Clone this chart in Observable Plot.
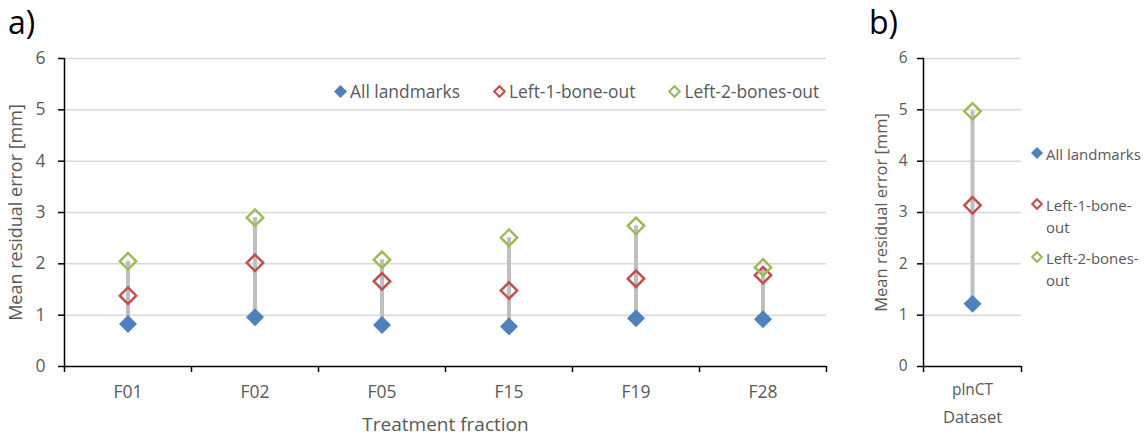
<!DOCTYPE html>
<html><head><meta charset="utf-8">
<script src="https://cdn.jsdelivr.net/npm/d3@7"></script>
<script src="https://cdn.jsdelivr.net/npm/@observablehq/plot@0.6"></script>
<style>
body{margin:0;background:#fff;font-family:"Open Sans",sans-serif;}
#wrap{position:relative;width:1146px;height:436px;overflow:hidden;background:#fff}
.panel{position:absolute;top:0;overflow:visible}
.tag{position:absolute;font-size:32px;color:#000;line-height:normal;top:0px}
.lega{position:absolute;left:334px;top:79px;display:flex;gap:33px;font-size:17.4px;color:#595959;line-height:24px;white-space:nowrap}
.item{display:flex;align-items:center;gap:3px}
.legb{position:absolute;left:1031px;font-size:15px;color:#595959;line-height:22px;display:flex;align-items:flex-start;gap:3px}
.legb .txt{width:97px}
.legb svg{margin-top:4px}
</style></head><body>
<div id="wrap"></div>
<script>
// ---- data ----
const fractions = ["F01", "F02", "F05", "F15", "F19", "F28"];
const seriesNames = ["All landmarks", "Left-1-bone-out", "Left-2-bones-out"];
const allLandmarks = [0.83, 0.96, 0.81, 0.78, 0.94, 0.92];
const left1BoneOut = [1.38, 2.02, 1.66, 1.48, 1.71, 1.78];
const left2BonesOut = [2.05, 2.90, 2.08, 2.51, 2.74, 1.93];
const datasets = ["plnCT"];
const allLandmarksB = [1.22];
const left1BoneOutB = [3.14];
const left2BonesOutB = [4.97];
const yTicks = [0, 1, 2, 3, 4, 5, 6];
const colors = ["#4f81bd", "#c0504d", "#9bbb59"];
const yTitle = "Mean residual error [mm]";

const wrap = document.getElementById("wrap");
const FONT = '"Open Sans", sans-serif';

function buildRows(cats, s0, s1, s2) {
  const vals = [s0, s1, s2];
  const pts = [];
  const ranges = [];
  cats.forEach((c, i) => {
    vals.forEach((arr, k) => pts.push({cat: c, pos: i + 0.5, series: k, value: arr[i]}));
    const v = vals.map(a => a[i]);
    ranges.push({cat: c, pos: i + 0.5, lo: d3.min(v), hi: d3.max(v)});
  });
  return {pts, ranges};
}

function panel(cats, s0, s1, s2, o) {
  const {pts, ranges} = buildRows(cats, s0, s1, s2);
  const n = cats.length;
  const edges = d3.range(n + 1);
  const centers = cats.map((c, i) => i + 0.5);
  return Plot.plot({
    width: o.width, height: 436,
    marginLeft: o.ml, marginRight: o.mr, marginTop: 58, marginBottom: 70,
    style: {fontFamily: FONT, fontSize: o.tickFont + "px", color: "#595959", background: "transparent", overflow: "visible"},
    x: {type: "linear", domain: [0, n]},
    y: {domain: [0, 6]},
    marks: [
      Plot.gridY(yTicks.filter(t => t > 0), {stroke: "#d9d9d9", strokeOpacity: 1, strokeWidth: 1.5}),
      Plot.ruleX(ranges, {x: "pos", y1: "lo", y2: "hi", stroke: "#bfbfbf", strokeWidth: 4}),
      Plot.dot(pts.filter(d => d.series === 0), {x: "pos", y: "value", symbol: "diamond2", r: 8.1, fill: colors[0], stroke: "none"}),
      Plot.dot(pts.filter(d => d.series === 1), {x: "pos", y: "value", symbol: "diamond2", r: 7.4, fill: "none", stroke: colors[1], strokeWidth: 2.5}),
      Plot.dot(pts.filter(d => d.series === 2), {x: "pos", y: "value", symbol: "diamond2", r: 7.4, fill: "none", stroke: colors[2], strokeWidth: 2.5}),
      Plot.ruleX([0], {stroke: "black", strokeWidth: 1.5}),
      Plot.ruleY([0], {stroke: "black", strokeWidth: 1.5}),
      Plot.axisY(yTicks, {tickSize: 6, tickFormat: () => "", label: null, stroke: "black", strokeWidth: 1.5}),
      Plot.axisY(yTicks, {tickSize: 0, tickPadding: o.yPad, tickFormat: d => String(d), label: yTitle, labelAnchor: "center", labelArrow: "none", labelOffset: o.yLabOff, fill: "#595959"}),
      Plot.axisX(edges, {tickSize: 6, tickFormat: () => "", label: null, stroke: "black", strokeWidth: 1.5}),
      Plot.axisX(centers, {tickSize: 0, tickPadding: o.xPad, tickFormat: v => cats[Math.round(v - 0.5)], label: o.xLabel, labelAnchor: "center", labelArrow: "none", labelOffset: o.xLabOff, fill: "#595959"})
    ]
  });
}

function setFont(svg, content, size) {
  svg.querySelectorAll("text").forEach(t => {
    if (t.textContent.trim() === content) t.setAttribute("font-size", size);
  });
}

// Panel a
const a = panel(fractions, allLandmarks, left1BoneOut, left2BonesOut,
  {width: 840, ml: 64, mr: 14, tickFont: 17.5, yPad: 19, yLabOff: 55, xPad: 19, xLabel: "Treatment fraction", xLabOff: 64});
a.classList.add("panel"); a.style.left = "0px";
wrap.appendChild(a);
setFont(a, yTitle, "18px");
setFont(a, "Treatment fraction", "19px");

// Panel b
const b = panel(datasets, allLandmarksB, left1BoneOutB, left2BonesOutB,
  {width: 306, ml: 83, mr: 125, tickFont: 15.5, yPad: 16, yLabOff: 48, xPad: 17, xLabel: "Dataset", xLabOff: 56});
b.classList.add("panel"); b.style.left = "840px";
wrap.appendChild(b);
setFont(b, yTitle, "16.5px");
setFont(b, "Dataset", "16.5px");

// tags
function tag(t, x) { const d = document.createElement("div"); d.className = "tag"; d.style.left = x + "px"; d.textContent = t; wrap.appendChild(d); }
tag("a)", 8); tag("b)", 869);

function marker(k, size) {
  const h = size / 2;
  const filled = k === 0;
  const inset = filled ? 0 : 1.2;
  const p = `M${h},${inset} L${size - inset},${h} L${h},${size - inset} L${inset},${h} Z`;
  return `<svg width="${size}" height="${size}" style="flex:none"><path d="${p}" fill="${filled ? colors[k] : "none"}" stroke="${filled ? "none" : colors[k]}" stroke-width="${filled ? 0 : 2.2}"/></svg>`;
}

// legend a
const la = document.createElement("div"); la.className = "lega";
la.innerHTML = seriesNames.map((s, k) => `<div class="item">${marker(k, 13)}<span>${s}</span></div>`).join("");
wrap.appendChild(la);

// legend b
const legBTops = [143, 194, 247];
seriesNames.forEach((s, k) => {
  const d = document.createElement("div"); d.className = "legb"; d.style.top = legBTops[k] + "px";
  d.innerHTML = `${marker(k, 12)}<div class="txt">${s}</div>`;
  wrap.appendChild(d);
});
</script>
</body></html>
